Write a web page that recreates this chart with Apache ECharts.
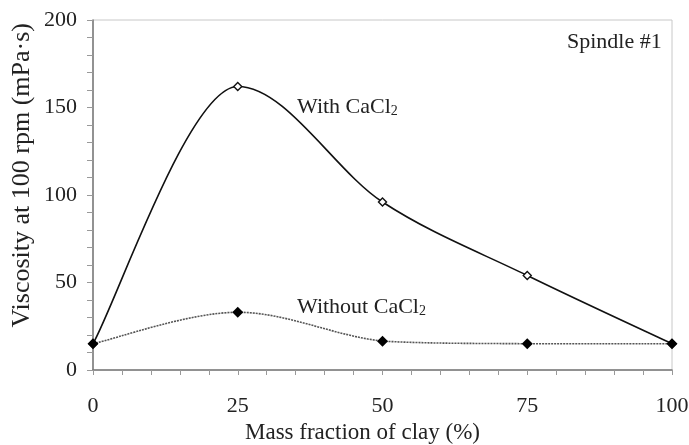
<!DOCTYPE html>
<html><head><meta charset="utf-8">
<script src="https://cdn.jsdelivr.net/npm/echarts@6/dist/echarts.min.js"></script>
<style>html,body{margin:0;padding:0;background:#fff}#c{width:689px;height:445px}</style>
</head><body><div id="c"></div>
<script>
var xValues = [0, 25, 50, 75, 100];
var withCaCl2 = [15, 162, 96, 54, 15];
var withoutCaCl2 = [15, 33, 16.5, 15, 15];
var xTicks = [0, 25, 50, 75, 100];
var yTicks = [0, 50, 100, 150, 200];

var FONT = '"Liberation Serif", "Times New Roman", serif';
function pairs(xs, ys){ return xs.map(function(x,i){ return [x, ys[i]]; }); }

// Excel-like smoothed curve (Catmull-Rom -> cubic Bezier, flat tangent at extrema)
function smoothCurve(ys, stroke, width, dash){
  return function(params, api){
    if (params.dataIndex !== 0) return null;
    var p = xValues.map(function(x,i){ return api.coord([x, ys[i]]); });
    var n = p.length, tan = [], children = [];
    for (var i = 0; i < n; i++){
      var a = p[Math.max(i-1,0)], b = p[Math.min(i+1,n-1)];
      var t = [(b[0]-a[0])/6, (b[1]-a[1])/6];
      if (i > 0 && i < n-1 && (p[i][1]-a[1])*(p[i][1]-b[1]) > 0) t[1] = 0;
      tan.push(t);
    }
    function clamp(v, y1, y2){ return Math.max(Math.min(y1,y2), Math.min(Math.max(y1,y2), v)); }
    for (var j = 0; j < n - 1; j++){
      var p1 = p[j], p2 = p[j+1];
      children.push({ type: 'bezierCurve', shape: {
        x1: p1[0], y1: p1[1], x2: p2[0], y2: p2[1],
        cpx1: p1[0] + tan[j][0], cpy1: clamp(p1[1] + tan[j][1], p1[1], p2[1]),
        cpx2: p2[0] - tan[j+1][0], cpy2: clamp(p2[1] - tan[j+1][1], p1[1], p2[1]) },
        style: { stroke: stroke, lineWidth: width, fill: null, lineDash: dash || null } });
    }
    return { type: 'group', children: children };
  };
}

var chart = echarts.init(document.getElementById('c'));
chart.setOption({
  animation: false,
  grid: { left: 93, right: 17, top: 20, bottom: 75, show: true, borderColor: '#c8c8c8', borderWidth: 1,
          containLabel: false, outerBoundsMode: 'none' },
  xAxis: {
    type: 'value', min: 0, max: 100, interval: 25,
    name: 'Mass fraction of clay (%)', nameLocation: 'middle', nameGap: 49,
    nameTextStyle: { fontFamily: FONT, fontSize: 23, color: '#222', padding: [0, 40, 0, 0] },
    axisLine: { show: true, lineStyle: { color: '#777', width: 1.5 } },
    axisTick: { show: true, length: 5, inside: false, lineStyle: { color: '#999' } },
    minorTick: { show: true, splitNumber: 5, length: 5, lineStyle: { color: '#999' } },
    splitLine: { show: false },
    axisLabel: { fontFamily: FONT, fontSize: 22, color: '#222', margin: 25,
      formatter: function(v){ return xTicks.indexOf(v) >= 0 ? String(v) : ''; } }
  },
  yAxis: {
    type: 'value', min: 0, max: 200, interval: 50,
    axisLine: { show: true, lineStyle: { color: '#777', width: 1.5 } },
    axisTick: { show: true, length: 6, inside: false, lineStyle: { color: '#999' } },
    minorTick: { show: true, splitNumber: 5, length: 6, lineStyle: { color: '#999' } },
    splitLine: { show: false },
    axisLabel: { fontFamily: FONT, fontSize: 22, color: '#222', margin: 16,
      formatter: function(v){ return yTicks.indexOf(v) >= 0 ? String(v) : ''; } }
  },
  graphic: [
    { type: 'text', left: 9, top: 23, rotation: Math.PI/2, z: 10,
      style: { text: 'Viscosity at 100 rpm (mPa\u00b7s)', font: '26px ' + FONT, fill: '#222' } },
    { type: 'text', left: 567, top: 31, z: 10,
      style: { text: 'Spindle #1', font: '22px ' + FONT, fill: '#222' } },
    { type: 'text', left: 297, top: 96, z: 10,
      style: { text: '{a|With CaCl}{s|2}', fill: '#222',
        rich: { a: { fontFamily: FONT, fontSize: 22, fill: '#222', verticalAlign: 'bottom' },
                s: { fontFamily: FONT, fontSize: 14, fill: '#222', padding: [9,0,0,0], verticalAlign: 'bottom' } } } },
    { type: 'text', left: 297, top: 296, z: 10,
      style: { text: '{a|Without CaCl}{s|2}', fill: '#222',
        rich: { a: { fontFamily: FONT, fontSize: 22, fill: '#222', verticalAlign: 'bottom' },
                s: { fontFamily: FONT, fontSize: 14, fill: '#222', padding: [9,0,0,0], verticalAlign: 'bottom' } } } }
  ],
  series: [
    { type: 'custom', data: pairs(xValues, withCaCl2), renderItem: smoothCurve(withCaCl2, '#111', 1.6), z: 2, silent: true },
    { type: 'custom', data: pairs(xValues, withoutCaCl2), renderItem: smoothCurve(withoutCaCl2, '#555', 1.6, [2, 1]), z: 2, silent: true },
    { type: 'scatter', data: pairs(xValues, withCaCl2), symbol: 'diamond', symbolSize: 8,
      itemStyle: { color: '#fff', borderColor: '#111', borderWidth: 1.4, opacity: 1 }, z: 4 },
    { type: 'scatter', data: pairs(xValues, withoutCaCl2), symbol: 'diamond', symbolSize: 11,
      itemStyle: { color: '#000', borderColor: '#000', borderWidth: 0, opacity: 1 }, z: 5 }
  ]
});
</script></body></html>
